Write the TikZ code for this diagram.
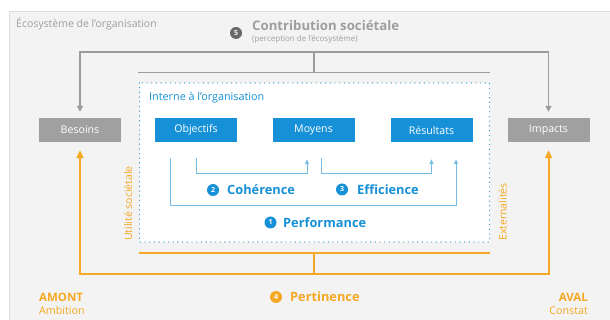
\documentclass[tikz,border=0pt]{standalone}
\usepackage{fontspec}
\setmainfont{Open Sans}
\usetikzlibrary{arrows.meta}

\definecolor{ecogray}{RGB}{243,243,243}
\definecolor{edgegray}{RGB}{220,220,220}
\definecolor{linegray}{RGB}{155,155,155}
\definecolor{boxgray}{RGB}{160,160,160}
\definecolor{txtgray}{RGB}{158,158,158}
\definecolor{dotgray}{RGB}{105,105,105}
\definecolor{mainblue}{RGB}{22,144,214}
\definecolor{lightblue}{RGB}{120,188,228}
\definecolor{dotblue}{RGB}{60,160,210}
\definecolor{mainorange}{RGB}{245,168,35}

\tikzset{
  graybox/.style={fill=boxgray, text=white, minimum width=82pt, minimum height=24pt,
    inner sep=0pt, font=\fontsize{10.6}{12}\selectfont},
  bluebox/.style={graybox, fill=mainblue},
  numdot/.style={circle, fill=#1, text=white, minimum size=12pt, inner sep=0pt,
    font=\fontsize{7}{7}\selectfont\bfseries},
  steplabel/.style={anchor=base west, inner sep=0pt, text=#1,
    font=\fontsize{12.8}{15}\selectfont\bfseries},
  plainlabel/.style={anchor=base west, inner sep=0pt, text=#1,
    font=\fontsize{10.5}{12}\selectfont},
  grayline/.style={draw=linegray, line width=1.5pt},
  orangeline/.style={draw=mainorange, line width=2pt},
  blueline/.style={draw=lightblue, line width=1pt}
}

\begin{document}
\begin{tikzpicture}[x=1pt, y=-1pt]
  \useasboundingbox (0,0) rectangle (610,320);

  % Ecosysteme background
  \fill[ecogray] (9,11) rectangle (612,322);
  \draw[edgegray, line width=0.8pt] (9,322) -- (9,11) -- (612,11);
  \node[plainlabel=txtgray] (ecosys) at (16,27.5) {Écosystème de l'organisation};

  % Contribution societale
  \node[numdot=dotgray] (n5) at (236,33) {5};
  \node[steplabel=txtgray, font=\fontsize{13.2}{15}\selectfont\bfseries] (contrib) at (252,31) {Contribution sociétale};
  \node[anchor=base west, inner sep=0pt, text=txtgray, font=\fontsize{8}{9}\selectfont]
    (percep) at (252,42) {(perception de l'écosystème)};

  % Interne a l'organisation
  \draw[dotblue, fill=white, line width=1.4pt, line cap=round, dash pattern=on 0pt off 4.7pt]
    (139.5,83) rectangle (489.5,242);
  \node[plainlabel=mainblue, font=\fontsize{10.8}{12}\selectfont] (interne) at (149,100.5) {Interne à l'organisation};

  % Boxes
  \node[graybox] (besoins) at (80,130) {Besoins};
  \node[graybox] (impacts) at (548.5,130) {Impacts};
  \foreach \x/\name/\label in {196/objectifs/Objectifs, 313.5/moyens/Moyens, 431.5/resultats/Résultats} {
    \node[bluebox] (\name) at (\x,130) {\label};
  }

  % Gray connectors from the top
  \coordinate (hubtop) at (314,52);
  \coordinate (hubmid) at (314,72.5);
  \coordinate (barl) at (138,72.5);
  \coordinate (barr) at (489.5,72.5);
  \draw[grayline, -{Triangle[width=6pt,length=6pt]}, shorten >=6pt] (hubtop) -| (besoins);
  \draw[grayline, -{Triangle[width=6pt,length=6pt]}, shorten >=6pt] (hubtop) -| (impacts);
  \draw[grayline] (hubtop) -- (hubmid);
  \draw[grayline] (barl) -- (barr);

  % Orange connectors from the bottom
  \coordinate (hubbot) at (314,274);
  \coordinate (hubin) at (314,253);
  \coordinate (obarl) at (139,253);
  \coordinate (obarr) at (490,253);
  \draw[orangeline, -{Triangle[width=7pt,length=8pt]}, shorten >=8pt] (hubbot) -| (besoins);
  \draw[orangeline, -{Triangle[width=7pt,length=8pt]}, shorten >=8pt] (hubbot) -| (impacts);
  \draw[orangeline] (hubbot) -- (hubin);
  \draw[orangeline] (obarl) -- (obarr);

  % Blue brackets between the boxes
  \draw[blueline, -{Triangle[width=4pt,length=5pt]}]
    ([yshift=-16pt]objectifs.south) -- ++(0,15) -| ([xshift=-6.5pt,yshift=-17pt]moyens.south);
  \draw[blueline, -{Triangle[width=4pt,length=5pt]}]
    ([xshift=7.5pt,yshift=-16pt]moyens.south) -- ++(0,15) -| ([yshift=-17pt]resultats.south);
  \draw[blueline, -{Triangle[width=4pt,length=5pt]}]
    ([xshift=-26pt,yshift=-16pt]objectifs.south) -- ++(0,47) -| ([xshift=24.5pt,yshift=-17pt]resultats.south);

  % Numbered steps
  \node[numdot=mainblue] (n2) at (213,190) {2};
  \node[steplabel=mainblue] (coherence) at (227,194.5) {Cohérence};
  \node[numdot=mainblue] (n3) at (342,189.5) {3};
  \node[steplabel=mainblue] (efficience) at (357,194.5) {Efficience};
  \node[numdot=mainblue] (n1) at (270.5,222.5) {1};
  \node[steplabel=mainblue] (performance) at (283,227.3) {Performance};
  \node[numdot=mainorange] (n4) at (276,297) {4};
  \node[steplabel=mainorange] (pertinence) at (290,301.5) {Pertinence};

  % Side labels
  \node[rotate=90, plainlabel=mainorange] (utilite) at (132,241) {Utilité sociétale};
  \node[rotate=90, plainlabel=mainorange] (externa) at (506.5,241) {Externalités};
  \node[steplabel=mainorange, font=\fontsize{11.5}{13}\selectfont\bfseries] (amont) at (39,301) {AMONT};
  \node[plainlabel=mainorange, font=\fontsize{10.7}{12}\selectfont] (ambition) at (39,314.3) {Ambition};
  \node[steplabel=mainorange, anchor=base east, font=\fontsize{11.5}{13}\selectfont\bfseries] (aval) at (588,301) {AVAL};
  \node[plainlabel=mainorange, anchor=base east, font=\fontsize{10.7}{12}\selectfont] (constat) at (588,314.3) {Constat};
\end{tikzpicture}
\end{document}
